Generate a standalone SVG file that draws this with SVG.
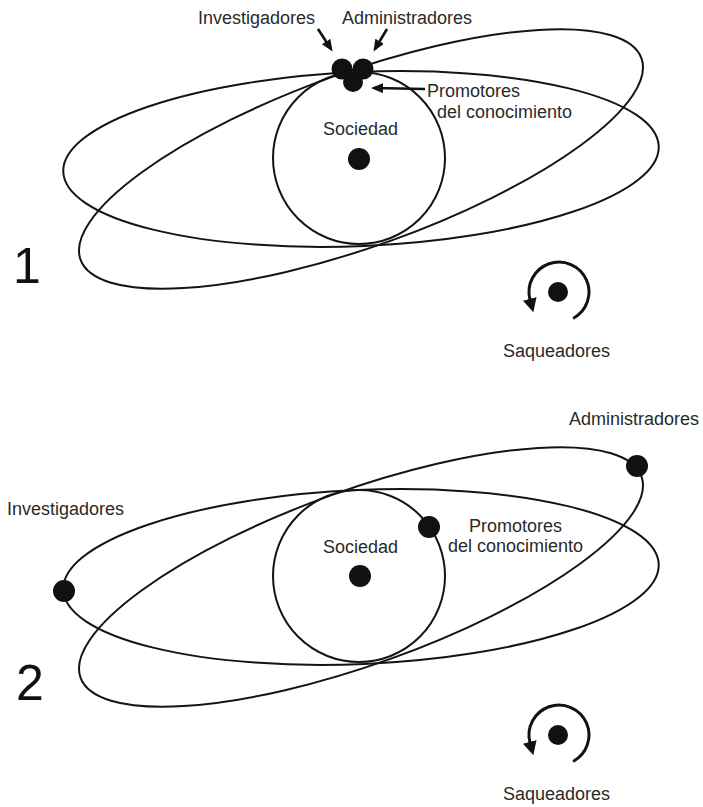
<svg xmlns="http://www.w3.org/2000/svg" width="703" height="807" viewBox="0 0 703 807">
<style>
.orbit{fill:none;stroke:#141414;stroke-width:2}
.dot{fill:#111}
.lbl{font-family:"Liberation Sans",Arial,sans-serif;font-size:18px;fill:#2a2a2a}
.num{font-family:"Liberation Sans",Arial,sans-serif;font-size:50px;fill:#111}
.arr{fill:none;stroke:#111;stroke-width:2.6;marker-end:url(#ah)}
.rot{fill:none;stroke:#111;stroke-width:3;marker-end:url(#ah2)}
</style>
<defs>
<marker id="ah" markerUnits="userSpaceOnUse" markerWidth="14" markerHeight="12" refX="9" refY="5" orient="auto">
<path d="M0,0 L12,5 L0,10 z" fill="#111"/>
</marker>
<marker id="ah2" markerUnits="userSpaceOnUse" markerWidth="16" markerHeight="16" refX="1" refY="7" orient="auto">
<path d="M0,0 L14,7 L0,14 z" fill="#111"/>
</marker>
</defs>
<rect width="703" height="807" fill="#fff"/>

<!-- Figure 1 -->
<g id="fig1">
<g id="fig1-orbits">
<circle class="orbit" cx="359" cy="158" r="86"/>
<ellipse class="orbit" cx="361" cy="159" rx="298" ry="87" transform="rotate(-2.5 361 159)"/>
<ellipse class="orbit" cx="361" cy="159" rx="298" ry="87" transform="rotate(-19.75 361 159)"/>
</g>
<g id="fig1-connectors">
<path class="arr" d="M318,29 L331,49"/>
<path class="arr" d="M387,29 L375,49"/>
<path class="arr" d="M425,89 L374,88"/>
</g>
<g id="fig1-sociedad"><circle class="dot" cx="359" cy="159" r="11"/><text class="lbl" x="323" y="135">Sociedad</text></g>
<g id="fig1-investigadores"><circle class="dot" cx="342" cy="69" r="10.5"/><text class="lbl" x="198" y="24">Investigadores</text></g>
<g id="fig1-administradores"><circle class="dot" cx="363" cy="69" r="10.5"/><text class="lbl" x="342" y="24">Administradores</text></g>
<g id="fig1-promotores"><circle class="dot" cx="353" cy="82" r="10"/><text class="lbl" x="427" y="97">Promotores</text><text class="lbl" x="437" y="118">del conocimiento</text></g>
<g id="fig1-saqueadores"><circle class="dot" cx="558" cy="292" r="10"/><path class="rot" d="M573.1,318.5 A30,30 0 1 0 530,299.8"/><text class="lbl" x="503" y="357">Saqueadores</text></g>
<text class="num" x="13" y="283">1</text>
</g>

<!-- Figure 2 -->
<g id="fig2">
<g id="fig2-orbits">
<circle class="orbit" cx="359" cy="576" r="86"/>
<ellipse class="orbit" cx="361" cy="577" rx="298" ry="87" transform="rotate(-2.5 361 577)"/>
<ellipse class="orbit" cx="361" cy="577" rx="298" ry="87" transform="rotate(-19.75 361 577)"/>
</g>
<g id="fig2-sociedad"><circle class="dot" cx="360" cy="576" r="11"/><text class="lbl" x="323" y="553">Sociedad</text></g>
<g id="fig2-investigadores"><circle class="dot" cx="64" cy="591" r="11"/><text class="lbl" x="7" y="515">Investigadores</text></g>
<g id="fig2-administradores"><circle class="dot" cx="637" cy="466" r="11"/><text class="lbl" x="569" y="425">Administradores</text></g>
<g id="fig2-promotores"><circle class="dot" cx="429" cy="527" r="11"/><text class="lbl" x="469" y="532">Promotores</text><text class="lbl" x="448" y="552">del conocimiento</text></g>
<g id="fig2-saqueadores"><circle class="dot" cx="558" cy="735" r="10"/><path class="rot" d="M573.1,761.5 A30,30 0 1 0 530,742.8"/><text class="lbl" x="503" y="800">Saqueadores</text></g>
<text class="num" x="16" y="700">2</text>
</g>
</svg>
